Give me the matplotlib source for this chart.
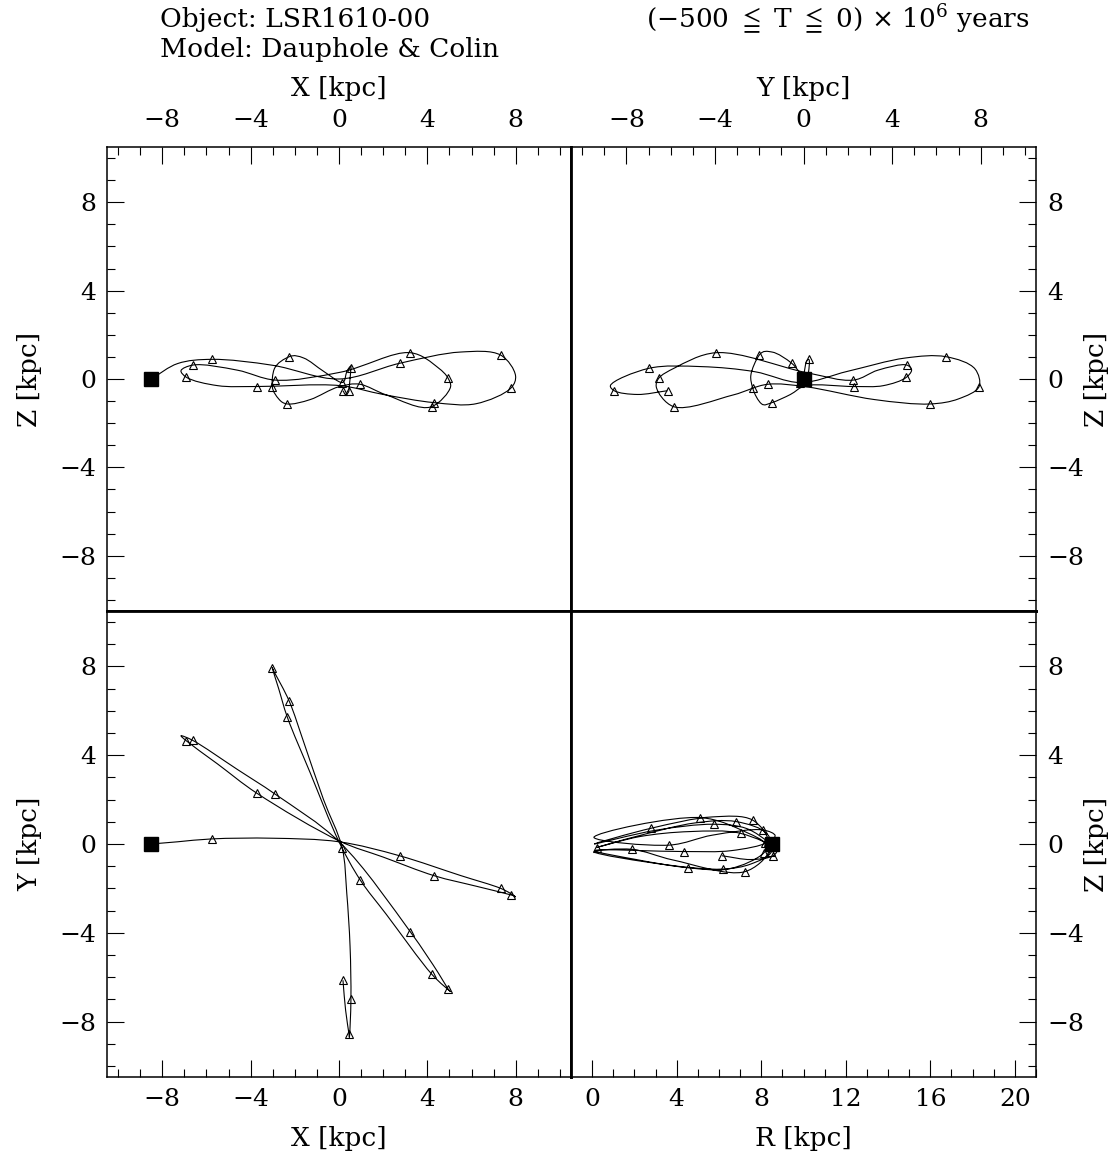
import numpy as np
import matplotlib
matplotlib.use('Agg')
import matplotlib.pyplot as plt
from matplotlib.path import Path
from matplotlib.patches import PathPatch
from matplotlib.ticker import MultipleLocator

plt.rcParams['font.family'] = ['DejaVu Serif', 'DejaVu Sans']
plt.rcParams['mathtext.fontset'] = 'dejavuserif'

# orbit nodes going back in time from the present position [kpc]
# kind: 's' = present position, 't' = 25 Myr step, '' = shape node
nodeKind = ['s', '', 't', '', '', 't', '', 't', '', 't', '', 't', '', '', 't', '', 't', '', 't', '', 't',
            '', 't', '', 't', '', 't', '', 't', '', '', 't', '', 't', '', 't', '', '', 't', '', '', 't',
            '', 't', '', 't']
orbitX = [-8.5, -7.3, -5.75, -3.0, 0.0, 2.74, 5.5, 7.32, 7.99, 7.8, 6.2, 4.31, 2.0, 0.05, -3.72, -5.5,
          -6.91, -7.15, -6.62, -4.6, -2.88, 0.03, 3.23, 4.5, 4.94, 5.05, 4.2, 2.14, 0.96, 0.0, -1.3,
          -2.34, -2.73, -3.02, -2.93, -2.25, -1.6, -0.7, 0.14, 0.35, 0.5, 0.54, 0.47, 0.45, 0.3, 0.18]
orbitY = [0.0, 0.10, 0.23, 0.26, 0.10, -0.53, -1.42, -2.0, -2.38, -2.3, -1.9, -1.43, -0.59, 0.12, 2.29,
          3.61, 4.65, 4.88, 4.67, 3.36, 2.24, 0.08, -3.96, -5.82, -6.54, -6.65, -5.87, -3.17, -1.62,
          0.10, 3.2, 5.72, 7.0, 7.93, 7.75, 6.43, 4.6, 2.0, -0.16, -2.2, -4.6, -7.0, -8.72, -8.55,
          -7.5, -6.14]
orbitZ = [0.0, 0.70, 0.89, 0.62, 0.0, 0.71, 1.22, 1.08, 0.15, -0.39, -1.12, -1.07, -0.7, -0.3, -0.34,
          -0.3, 0.08, 0.38, 0.63, 0.4, -0.05, 0.3, 1.19, 0.5, 0.03, -0.35, -1.25, -0.72, -0.24, -0.35,
          -0.93, -1.13, -0.9, -0.34, 0.45, 1.01, 0.95, 0.35, -0.16, 0.33, 0.56, 0.48, -0.3, -0.53,
          -0.7, -0.53]

majorTicks = [-8, -4, 0, 4, 8]
radiusTicks = [0, 4, 8, 12, 16, 20]

tickSize = 18
labelSize = 19


def bezierControls(nodes):
    # centripetal Catmull-Rom through the nodes, as cubic Bezier segments
    p = np.vstack([2 * nodes[0] - nodes[1], nodes, 2 * nodes[-1] - nodes[-2]])
    step = np.maximum(np.linalg.norm(np.diff(p, axis=0), axis=1) ** 0.5, 1e-6)
    t = np.concatenate([[0.0], np.cumsum(step)])
    segs = []
    for i in range(1, len(p) - 2):
        p0, p1, p2, p3 = p[i - 1:i + 3]
        t0, t1, t2, t3 = t[i - 1:i + 3]
        m1 = (t2 - t1) * ((p1 - p0) / (t1 - t0) - (p2 - p0) / (t2 - t0) + (p2 - p1) / (t2 - t1))
        m2 = (t2 - t1) * ((p2 - p1) / (t2 - t1) - (p3 - p1) / (t3 - t1) + (p3 - p2) / (t3 - t2))
        segs.append([p1, p1 + m1 / 3, p2 - m2 / 3, p2])
    return np.array(segs)


def orbitPatch(ctrl):
    verts = [ctrl[0, 0]]
    codes = [Path.MOVETO]
    for seg in ctrl:
        verts += [seg[1], seg[2], seg[3]]
        codes += [Path.CURVE4] * 3
    return PathPatch(Path(verts, codes), fill=False, lw=0.8, ec='black', zorder=2)


def drawPanel(ax, ctrl, u, v):
    ax.add_patch(orbitPatch(ctrl))
    kind = np.array(nodeKind)
    u = np.asarray(u)
    v = np.asarray(v)
    ax.plot(u[kind == 't'], v[kind == 't'], ls='none', marker='^', ms=6, mfc='none',
            mec='black', mew=0.8, zorder=3)
    ax.plot(u[kind == 's'], v[kind == 's'], ls='none', marker='s', ms=10, mfc='black',
            mec='black', zorder=4)


def styleAxes(ax, sides, xr, yr, xt, yt):
    ax.set_xlim(*xr)
    ax.set_ylim(*yr)
    ax.set_xticks(xt)
    ax.set_yticks(yt)
    ax.xaxis.set_minor_locator(MultipleLocator(1))
    ax.yaxis.set_minor_locator(MultipleLocator(1))
    ax.tick_params(which='both', direction='in', labelsize=tickSize, pad=8,
                   top='top' in sides, bottom='bottom' in sides,
                   left='left' in sides, right='right' in sides,
                   labeltop='top' in sides, labelbottom='bottom' in sides,
                   labelleft='left' in sides, labelright='right' in sides)
    if 'top' in sides:
        ax.xaxis.set_tick_params(which='both', pad=11)
    ax.tick_params(which='major', length=12, width=0.8)
    ax.tick_params(which='minor', length=6, width=0.8)
    for name, sp in ax.spines.items():
        sp.set_linewidth(1.1 if name in sides else 2.0)


fig = plt.figure(figsize=(11.19, 11.61), dpi=100)
x0, x1, x2 = 107 / 1119, 571 / 1119, 1036 / 1119
y0, y1, y2 = 1 - 1077 / 1161, 1 - 611 / 1161, 1 - 147 / 1161
axXZ = fig.add_axes([x0, y1, x1 - x0, y2 - y1])
axYZ = fig.add_axes([x1, y1, x2 - x1, y2 - y1])
axXY = fig.add_axes([x0, y0, x1 - x0, y1 - y0])
axRZ = fig.add_axes([x1, y0, x2 - x1, y1 - y0])

pos = np.column_stack([orbitX, orbitY, orbitZ])
ctrl3 = bezierControls(pos)
orbitR = np.hypot(orbitX, orbitY)
ctrlRZ = bezierControls(np.column_stack([orbitR, orbitZ]))

drawPanel(axXZ, ctrl3[:, :, [0, 2]], orbitX, orbitZ)
drawPanel(axYZ, ctrl3[:, :, [1, 2]], orbitY, orbitZ)
drawPanel(axXY, ctrl3[:, :, [0, 1]], orbitX, orbitY)
drawPanel(axRZ, ctrlRZ, orbitR, orbitZ)

lim = (-10.5, 10.5)
styleAxes(axXZ, ('top', 'left'), lim, lim, majorTicks, majorTicks)
styleAxes(axYZ, ('top', 'right'), lim, lim, majorTicks, majorTicks)
styleAxes(axXY, ('bottom', 'left'), lim, lim, majorTicks, majorTicks)
styleAxes(axRZ, ('bottom', 'right'), (-1, 21), lim, radiusTicks, majorTicks)

axXZ.xaxis.set_label_position('top')
axXZ.set_xlabel('X [kpc]', fontsize=labelSize, labelpad=9)
axXZ.set_ylabel('Z [kpc]', fontsize=labelSize, labelpad=12)
axYZ.xaxis.set_label_position('top')
axYZ.set_xlabel('Y [kpc]', fontsize=labelSize, labelpad=9)
axYZ.yaxis.set_label_position('right')
axYZ.set_ylabel('Z [kpc]', fontsize=labelSize, labelpad=0)
axXY.set_xlabel('X [kpc]', fontsize=labelSize, labelpad=11)
axXY.set_ylabel('Y [kpc]', fontsize=labelSize, labelpad=12)
axRZ.set_xlabel('R [kpc]', fontsize=labelSize, labelpad=11)
axRZ.yaxis.set_label_position('right')
axRZ.set_ylabel('Z [kpc]', fontsize=labelSize, labelpad=0)

fig.text(160 / 1119, 1 - 20 / 1161, 'Object: LSR1610-00', fontsize=labelSize, ha='left', va='center')
fig.text(160 / 1119, 1 - 50 / 1161, 'Model: Dauphole & Colin', fontsize=labelSize, ha='left', va='center')
fig.text(1030 / 1119, 1 - 20 / 1161, '(\u2212500 ${\\leqq}$ T ${\\leqq}$ 0) \u00d7 $10^{6}$ years',
         fontsize=labelSize, ha='right', va='center')

fig.savefig('out.png', dpi=100)
